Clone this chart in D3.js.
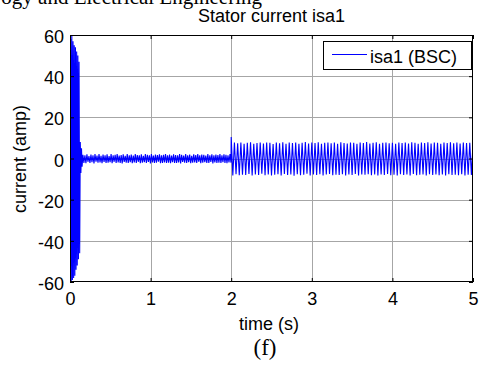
<!DOCTYPE html>
<html>
<head>
<meta charset="utf-8">
<script src="https://cdn.jsdelivr.net/npm/d3@7"></script>
<style>
  html, body { margin: 0; padding: 0; background: #fff; }
  svg { display: block; }
</style>
</head>
<body>
<svg id="chart" width="486" height="365"></svg>
<script>
// ---- Data ----
const xTicks = [0, 1, 2, 3, 4, 5];
const yTicks = [-60, -40, -20, 0, 20, 40, 60];
const seriesName = "isa1 (BSC)";

// Start-up transient: peaks every 0.0075 s from t = 0
const transientStart = 0, transientStep = 0.0075;
const transientPeaks = [0, 58, -60, 60, -59, 57, -58, 55, -57, 54, -54, 52, -52, 50, -49, 47, -46, 8, -7, 5, -4];

// Low-load steady state: peaks every 0.0125 s from t = 0.16
const lowStart = 0.16, lowStep = 0.0125;
const lowPeaks = [
  1.8,-2.1,1.5,-2.3,2.0,-1.6,1.2,-2.2,1.9,-1.8,1.6,-2.4,2.1,-1.5,1.4,-2.0,2.2,-1.9,1.3,-2.3,
  1.9,-1.7,1.6,-2.2,2.0,-2.0,1.2,-1.8,2.1,-2.3,1.5,-1.6,1.8,-2.2,2.2,-1.9,1.4,-2.1,1.7,-2.4,
  2.0,-1.7,1.3,-2.0,2.1,-2.2,1.6,-1.8,1.9,-2.3,1.4,-1.9,2.2,-2.1,1.7,-1.6,1.5,-2.3,2.0,-2.0,
  1.3,-1.8,2.1,-2.2,1.8,-1.7,1.6,-2.4,2.2,-1.9,1.4,-2.1,1.9,-2.0,1.7,-1.6,2.0,-2.3,1.5,-2.1,
  1.8,-1.9,2.1,-2.2,1.6,-2.0,1.9,-2.3,1.4,-1.8,2.0,-2.1,1.7,-2.2,1.5,-1.9,2.1,-2.4,1.8,-1.7,
  1.4,-2.0,2.2,-2.1,1.6,-1.8,1.9,-2.3,1.3,-2.0,2.0,-1.9,1.7,-2.2,2.1,-1.6,1.5,-2.3,1.9,-2.0,
  1.8,-1.8,1.4,-2.2,2.2,-2.1,1.6,-1.7,2.0,-2.4,1.5,-1.9,1.9,-2.1,1.7,-2.0,2.1,-2.2,1.6,-1.8,
  2.0,-2.1,1.8,-2.3,1.5,-1.9,2.1,-2.0
];

// After the load step at t = 2 s: peaks every 0.02 s from t = 2.0
const loadStart = 2.0, loadStep = 0.02;
const loadPeaks = [
  10.4,-8.3,7.8,-7.6,7.4,-8.1,7.7,-7.9,7.2,-8.0,7.6,-7.5,7.9,-8.2,7.1,-7.8,7.5,-8.0,7.8,-7.4,
  7.3,-8.1,7.7,-7.7,7.6,-8.3,7.0,-7.9,7.8,-7.6,7.4,-8.2,7.9,-7.5,7.2,-8.0,7.7,-7.8,7.5,-8.4,
  7.8,-7.6,7.1,-8.1,7.6,-7.9,8.0,-7.4,7.3,-8.2,7.7,-7.7,7.5,-8.0,7.9,-7.6,7.2,-8.3,7.6,-7.8,
  7.8,-7.5,7.4,-8.1,7.7,-7.9,7.1,-8.0,7.9,-7.6,7.5,-8.2,7.3,-7.7,7.8,-8.0,7.6,-7.5,7.2,-8.3,
  7.7,-7.8,7.5,-7.9,8.0,-7.6,7.3,-8.1,7.6,-7.7,7.9,-8.2,7.1,-7.8,7.6,-8.0,7.8,-7.5,7.4,-8.1,
  7.6,-7.9,7.2,-8.2,7.8,-7.6,7.5,-8.0,7.7,-7.8,7.3,-8.3,7.9,-7.5,7.6,-8.1,7.2,-7.9,7.8,-7.7,
  7.5,-8.2,7.9,-7.6,7.3,-8.0,7.7,-7.8,7.6,-8.1,7.1,-7.7,7.8,-8.2,7.5,-7.6,7.9,-8.0,7.4,-7.9,
  7.7,-8.1,7.3,-7.6,7.8,-8.2,7.5,-7.9,7.6,-8.0,7.4
];

// ---- Build sampled series ----
function sampled(start, step, vals) {
  return vals.map((v, i) => ({ t: start + i * step, v: v }));
}
const series = [].concat(
  sampled(transientStart, transientStep, transientPeaks),
  sampled(lowStart, lowStep, lowPeaks),
  sampled(loadStart, loadStep, loadPeaks)
);

// ---- Layout ----
const svg = d3.select("#chart");
const L = 70, R = 473, T = 35, B = 282;
const x = d3.scaleLinear().domain([0, 5]).range([L, R]);
const y = d3.scaleLinear().domain([-60, 60]).range([B, T]);
const sans = "Arial, 'Liberation Sans', Helvetica, sans-serif";
const serif = "'Times New Roman', 'Liberation Serif', Times, serif";

// clipped header text from the page
svg.append("text")
  .attr("x", 262).attr("y", 4)
  .attr("text-anchor", "end")
  .attr("font-family", serif).attr("font-size", 21)
  .attr("fill", "#000")
  .text("ogy and Electrical Engineering");

// grid
const grid = svg.append("g").attr("stroke", "#a6a6a6").attr("stroke-width", 1);
grid.selectAll("line.gx").data(xTicks.slice(1, -1)).join("line")
  .attr("x1", d => Math.round(x(d)) + 0.5).attr("x2", d => Math.round(x(d)) + 0.5)
  .attr("y1", T).attr("y2", B);
grid.selectAll("line.gy").data(yTicks.slice(1, -1)).join("line")
  .attr("y1", d => Math.round(y(d)) + 0.5).attr("y2", d => Math.round(y(d)) + 0.5)
  .attr("x1", L).attr("x2", R);

// data line
svg.append("clipPath").attr("id", "plotclip")
  .append("rect").attr("x", L).attr("y", T - 1).attr("width", R - L).attr("height", B - T + 2);
const line = d3.line().x(d => x(d.t)).y(d => y(d.v));
svg.append("path")
  .datum(series)
  .attr("clip-path", "url(#plotclip)")
  .attr("fill", "none")
  .attr("stroke", "#0000ff")
  .attr("stroke-width", 1.1)
  .attr("d", line);

// axes (inward ticks)
const fmt = d => String(d);
const xAxis = d3.axisBottom(x).tickValues(xTicks).tickSize(-4).tickPadding(10).tickFormat(fmt);
svg.append("g").attr("transform", `translate(0,${B})`).call(xAxis);
const xTop = d3.axisTop(x).tickValues(xTicks).tickSize(-4).tickFormat("");
svg.append("g").attr("transform", `translate(0,${T})`).call(xTop);
const yAxis = d3.axisLeft(y).tickValues(yTicks).tickSize(-4).tickPadding(6).tickFormat(fmt);
const gy = svg.append("g").attr("transform", `translate(${L},0)`).call(yAxis);
const yRight = d3.axisRight(y).tickValues(yTicks).tickSize(-4).tickFormat("");
svg.append("g").attr("transform", `translate(${R},0)`).call(yRight);
svg.selectAll(".domain").remove();
svg.selectAll(".tick line").attr("stroke", "#000");
svg.selectAll(".tick text").attr("font-family", sans).attr("font-size", 18).attr("fill", "#000");
gy.selectAll(".tick text").attr("dy", "0.42em");

// frame
svg.append("rect")
  .attr("x", L + 0.5).attr("y", T + 0.5)
  .attr("width", R - L - 1).attr("height", B - T - 1)
  .attr("fill", "none").attr("stroke", "#000").attr("stroke-width", 1);

// title and labels
svg.append("text")
  .attr("x", (L + R) / 2).attr("y", 21.5)
  .attr("text-anchor", "middle")
  .attr("font-family", sans).attr("font-size", 18)
  .text("Stator current isa1");
svg.append("text")
  .attr("x", 269).attr("y", 330)
  .attr("text-anchor", "middle")
  .attr("font-family", sans).attr("font-size", 18)
  .text("time (s)");
svg.append("text")
  .attr("transform", "translate(26,159) rotate(-90)")
  .attr("text-anchor", "middle")
  .attr("font-family", sans).attr("font-size", 18)
  .text("current (amp)");
svg.append("text")
  .attr("x", 265).attr("y", 355)
  .attr("text-anchor", "middle")
  .attr("font-family", serif).attr("font-size", 23)
  .text("(f)");

// legend
const lg = svg.append("g");
lg.append("rect")
  .attr("x", 323.5).attr("y", 41.5).attr("width", 148).attr("height", 28)
  .attr("fill", "#fff").attr("stroke", "#000").attr("stroke-width", 1);
lg.append("line")
  .attr("x1", 332).attr("x2", 367).attr("y1", 54.5).attr("y2", 54.5)
  .attr("stroke", "#0000ff").attr("stroke-width", 1);
lg.append("text")
  .attr("x", 370).attr("y", 63)
  .attr("font-family", sans).attr("font-size", 18)
  .text(seriesName);
</script>
</body>
</html>
